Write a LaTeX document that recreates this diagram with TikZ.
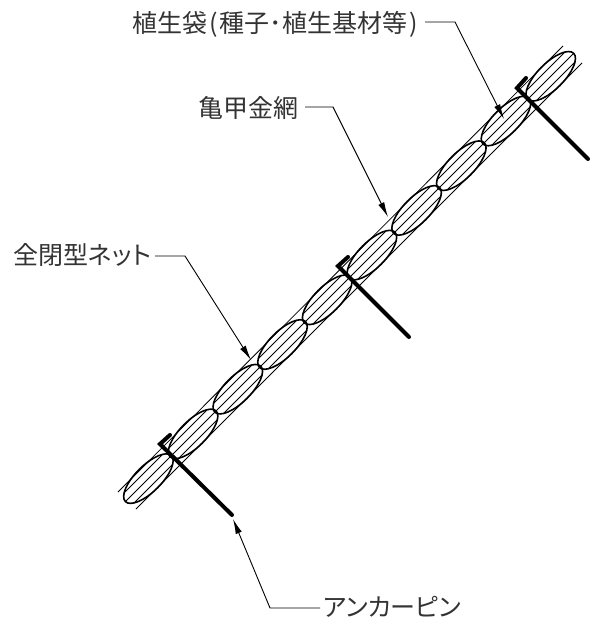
\documentclass[tikz,border=0pt]{standalone}
\usepackage{fontspec}
\newfontfamily\cjk{Noto Sans CJK JP}
\newfontfamily\cjkp[RawFeature=+palt]{Noto Sans CJK JP}
\usetikzlibrary{arrows.meta}
\tikzset{
  x=1pt,y=-1pt,
  bag/.style={line width=1.6pt,fill=none},
  hatch/.style={line width=0.8pt},
  skin/.style={line width=0.8pt},
  pin/.style={line width=4pt,line join=miter,line cap=round},
  leader/.style={line width=0.9pt,-{Latex[length=15pt,width=6.5pt]}},
  lbl/.style={inner sep=0pt,font=\cjk\fontsize{25pt}{26pt}\selectfont,text=black!80}
}
\begin{document}
\begin{tikzpicture}
\useasboundingbox (0,0) rectangle (590,619);
% outer skins
\coordinate (skinUa) at (118,492);\coordinate (skinUb) at (563,46);
\coordinate (skinLa) at (136,509);\coordinate (skinLb) at (582,63);
\draw[skin] (skinUa) -- (skinUb);
\draw[skin] (skinLa) -- (skinLb);
% bags with hatching
\foreach \i in {0,...,9}{
  \pgfmathsetmacro{\cx}{148.4+44.7*\i}
  \pgfmathsetmacro{\cy}{478.6-44.7*\i}
  \begin{scope}
    \clip (\cx,\cy) ellipse[x radius=32.5pt,y radius=13pt,rotate=45];
    \foreach \d in {-5,0,5}{
      \draw[hatch,shift={(\cx,\cy)}] (-40+\d,40+\d) -- (40+\d,-40+\d);
    }
  \end{scope}
  \draw[bag] (\cx,\cy) ellipse[x radius=32.5pt,y radius=13pt,rotate=45];
}
% pins
\coordinate (pinAa) at (170,435);\coordinate (pinAb) at (160,444);\coordinate (pinAc) at (232,515);
\coordinate (pinBa) at (348,257);\coordinate (pinBb) at (338,266);\coordinate (pinBc) at (409,337);
\coordinate (pinCa) at (526,78);\coordinate (pinCb) at (517,88);\coordinate (pinCc) at (588,159);
\draw[pin] (pinAa) -- (pinAb) -- (pinAc);
\draw[pin] (pinBa) -- (pinBb) -- (pinBc);
\draw[pin] (pinCa) -- (pinCb) -- (pinCc);
% labels
\node[lbl,anchor=west] (bagl) at (132,24) {植生袋\hspace{2pt}(\hspace{2pt}種子･植生基材等\hspace{2pt})};
\node[lbl,anchor=west] (wire) at (198,108) {亀甲金網};
\node[lbl,anchor=west] (net) at (13,255) {全閉型{\cjkp ネット}};
\node[lbl,anchor=west] (anchor) at (323,607) {{\cjkp アンカーピン}};
% leaders
\coordinate (tipBag) at (504,119);\coordinate (tipWire) at (388,217);
\coordinate (tipNet) at (251,360);\coordinate (tipPin) at (233,519);
\draw[leader] (425,22) -- (455,22) -- (tipBag);
\draw[leader] (305,107) -- (333,107) -- (tipWire);
\draw[leader] (155,256) -- (185,256) -- (tipNet);
\draw[leader] (320,608) -- (270,608) -- (tipPin);
\end{tikzpicture}
\end{document}
